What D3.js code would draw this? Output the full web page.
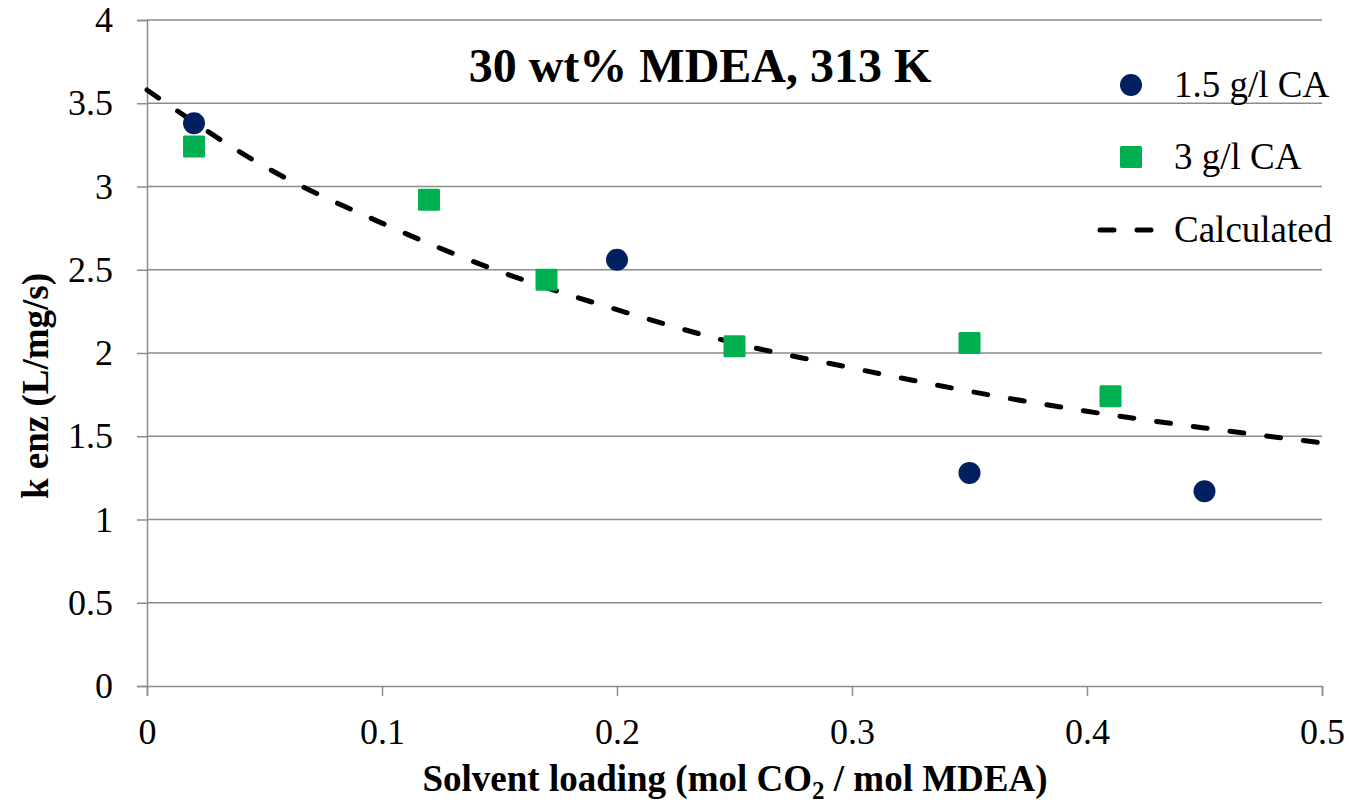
<!DOCTYPE html>
<html>
<head>
<meta charset="utf-8">
<script src="https://cdn.jsdelivr.net/npm/d3@7"></script>
<style>
  html, body { margin: 0; padding: 0; background: #ffffff; }
  svg { display: block; }
  text { font-family: "Liberation Serif", "Times New Roman", serif; fill: #000; }
</style>
</head>
<body>
<svg id="chart" width="1349" height="803"></svg>
<script>
// Measured rate constants, 30 wt% MDEA at 313 K
const loading15 = [0.02, 0.20, 0.35, 0.45];
const kenz15    = [3.38, 2.56, 1.28, 1.17];

const loading3  = [0.02, 0.12, 0.17, 0.25, 0.35, 0.41];
const kenz3     = [3.24, 2.92, 2.44, 2.04, 2.06, 1.74];

// Model curve
const loadingCalc = [0, 0.05, 0.10, 0.15, 0.20, 0.25, 0.30, 0.35, 0.40, 0.45, 0.50];
const kenzCalc    = [3.58, 3.12, 2.78, 2.49, 2.26, 2.06, 1.91, 1.77, 1.65, 1.55, 1.46];

const xTicks = [0, 0.1, 0.2, 0.3, 0.4, 0.5];
const yTicks = [0, 0.5, 1, 1.5, 2, 2.5, 3, 3.5, 4];

const seriesNames = ["1.5 g/l CA", "3 g/l CA", "Calculated"];
const colors = { circle: "#002060", square: "#00B050", line: "#000000" };

const svg = d3.select("#chart");
const plot = { left: 147, right: 1322, top: 20, bottom: 686 };

const x = d3.scaleLinear().domain([0, 0.5]).range([plot.left, plot.right]);
const y = d3.scaleLinear().domain([0, 4]).range([plot.bottom, plot.top]);

const gridColor = "#8c8c8c";
const fontSize = 36;
const serif = "Liberation Serif";

// Horizontal gridlines
svg.append("g")
  .selectAll("line")
  .data(yTicks.filter(d => d > 0))
  .join("line")
  .attr("x1", plot.left).attr("x2", plot.right)
  .attr("y1", d => y(d)).attr("y2", d => y(d))
  .attr("stroke", gridColor).attr("stroke-width", 1.5);

// Y axis
const yAxis = svg.append("g")
  .attr("transform", `translate(${plot.left},0)`)
  .call(d3.axisLeft(y).tickValues(yTicks).tickSize(10).tickPadding(24)
        .tickFormat(d => d3.format("~g")(d)));
yAxis.select(".domain").attr("stroke", gridColor).attr("stroke-width", 1.5);
yAxis.selectAll(".tick line").attr("stroke", gridColor).attr("stroke-width", 1.5);
yAxis.selectAll(".tick text")
  .attr("font-size", fontSize).attr("font-family", serif).attr("fill", "#000");

// X axis
const xAxis = svg.append("g")
  .attr("transform", `translate(0,${plot.bottom})`)
  .call(d3.axisBottom(x).tickValues(xTicks).tickSize(10).tickPadding(22)
        .tickFormat(d => d3.format("~g")(d)));
xAxis.select(".domain").attr("stroke", gridColor).attr("stroke-width", 1.5);
xAxis.selectAll(".tick line").attr("stroke", gridColor).attr("stroke-width", 1.5);
xAxis.selectAll(".tick text")
  .attr("font-size", fontSize).attr("font-family", serif).attr("fill", "#000");

// Model curve (dashed)
const calc = loadingCalc.map((d, i) => ({ x: d, y: kenzCalc[i] }));
svg.append("path")
  .datum(calc)
  .attr("fill", "none")
  .attr("stroke", colors.line)
  .attr("stroke-width", 5)
  .attr("stroke-linecap", "round")
  .attr("stroke-dasharray", "14 23")
  .attr("d", d3.line().x(d => x(d.x)).y(d => y(d.y)).curve(d3.curveMonotoneX));

// 3 g/l CA squares
const sq = 22;
svg.append("g")
  .selectAll("rect")
  .data(loading3.map((d, i) => ({ x: d, y: kenz3[i] })))
  .join("rect")
  .attr("x", d => x(d.x) - sq / 2).attr("y", d => y(d.y) - sq / 2)
  .attr("width", sq).attr("height", sq).attr("rx", 1.5)
  .attr("fill", colors.square);

// 1.5 g/l CA circles
svg.append("g")
  .selectAll("circle")
  .data(loading15.map((d, i) => ({ x: d, y: kenz15[i] })))
  .join("circle")
  .attr("cx", d => x(d.x)).attr("cy", d => y(d.y)).attr("r", 11)
  .attr("fill", colors.circle);

// Title
svg.append("text")
  .attr("x", 700).attr("y", 82)
  .attr("text-anchor", "middle")
  .attr("font-size", 48).attr("font-weight", "bold")
  .text("30 wt% MDEA, 313 K");

// Legend
const legend = svg.append("g");
legend.append("circle").attr("cx", 1131).attr("cy", 85).attr("r", 11).attr("fill", colors.circle);
legend.append("rect").attr("x", 1120).attr("y", 146).attr("width", sq).attr("height", sq)
  .attr("rx", 1.5).attr("fill", colors.square);
legend.append("line").attr("x1", 1100).attr("x2", 1153).attr("y1", 230).attr("y2", 230)
  .attr("stroke", colors.line).attr("stroke-width", 5)
  .attr("stroke-linecap", "round").attr("stroke-dasharray", "14 23");
[97, 169, 242].forEach((by, i) => {
  legend.append("text").attr("x", 1174).attr("y", by)
    .attr("font-size", 37).text(seriesNames[i]);
});

// Axis titles
const xTitle = svg.append("text")
  .attr("x", 735).attr("y", 791)
  .attr("text-anchor", "middle")
  .attr("font-size", 37).attr("font-weight", "bold");
xTitle.append("tspan").text("Solvent loading (mol CO");
xTitle.append("tspan").attr("font-size", 25).attr("dy", 8).text("2");
xTitle.append("tspan").attr("dy", -8).text(" / mol MDEA)");

svg.append("text")
  .attr("transform", "translate(48,386) rotate(-90)")
  .attr("text-anchor", "middle")
  .attr("font-size", 37).attr("font-weight", "bold")
  .text("k enz (L/mg/s)");
</script>
</body>
</html>
